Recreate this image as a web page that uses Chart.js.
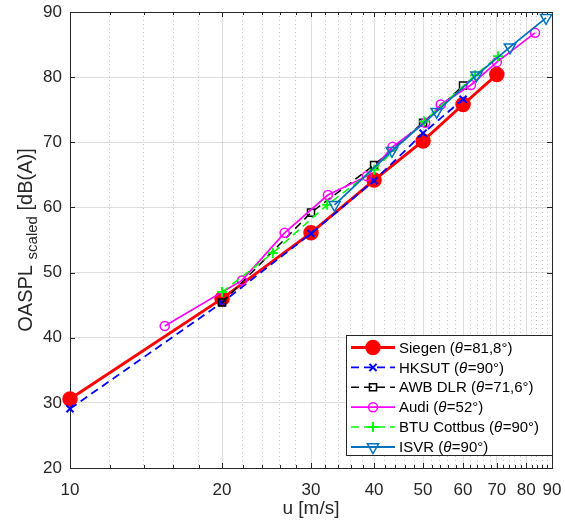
<!DOCTYPE html>
<html>
<head>
<meta charset="utf-8">
<script src="https://cdn.jsdelivr.net/npm/chart.js@4.4.1/dist/chart.umd.min.js"></script>
<style>
  body { margin: 0; background: #fff; }
  canvas { display: block; }
</style>
</head>
<body>
<canvas id="oasplChart" width="565" height="525"></canvas>
<script>
// tick values
const xTicks = [10, 20, 30, 40, 50, 60, 70, 80, 90];
const xMinor = [12, 14, 16, 18, 22, 24, 26, 28, 32, 34, 36, 38, 42, 44, 46, 48,
                52, 54, 56, 58, 62, 64, 66, 68, 72, 74, 76, 78, 82, 84, 86, 88];
const yTicks = [20, 30, 40, 50, 60, 70, 80, 90];

// series names / angles (legend)
const seriesNames = ['Siegen', 'HKSUT', 'AWB DLR', 'Audi', 'BTU Cottbus', 'ISVR'];
const seriesAngles = ['81,8', '90', '71,6', '52', '90', '90'];

// values: u [m/s] and OASPL [dB(A)]
const siegenU = [10, 20, 30, 40, 50, 60, 70];
const siegenL = [30.6, 46.0, 56.1, 64.2, 70.2, 75.8, 80.4];
const hksutU = [10, 20, 30, 40, 50, 60];
const hksutL = [29.1, 45.4, 56.0, 64.1, 71.4, 76.6];
const awbU = [20, 30, 40, 50, 60];
const awbL = [45.4, 59.2, 66.5, 73.0, 78.7];
const audiU = [15.4, 21.9, 26.6, 32.4, 38.7, 43.5, 50.5, 54.2, 62.2, 70.0, 83.3];
const audiL = [41.8, 48.8, 56.1, 61.9, 64.8, 69.3, 73.0, 75.8, 78.8, 82.3, 86.8];
const btuU = [20, 25.2, 32.3, 40, 50.2, 63.4, 70.4];
const btuL = [47.0, 53.0, 60.4, 65.8, 73.2, 80.3, 83.2];
const isvrU = [33.4, 43.4, 53.2, 63.8, 74.3, 87.6];
const isvrL = [60.4, 68.7, 74.7, 80.3, 84.6, 89.1];

const FONT = "'Liberation Sans', Arial, Helvetica, sans-serif";
const TXT = '#262626';

function pts(us, ls) {
  return us.map((u, i) => ({ x: u, y: ls[i] }));
}

function makeSet(i, us, ls, style) {
  return Object.assign({
    label: seriesNames[i] + ' (\u03b8=' + seriesAngles[i] + '\u00b0)',
    data: pts(us, ls),
    fill: false,
    tension: 0,
    clip: false,
    pointBorderWidth: 1.5,
    pointHoverRadius: 0,
    order: seriesNames.length - 1 - i
  }, style);
}

const datasets = [
  makeSet(0, siegenU, siegenL, {
    borderColor: '#ff0000', backgroundColor: '#ff0000', borderWidth: 3,
    pointStyle: 'circle', pointRadius: 7, pointBackgroundColor: '#ff0000', pointBorderColor: '#ff0000'
  }),
  makeSet(1, hksutU, hksutL, {
    borderColor: '#0000ff', borderWidth: 1.8, borderDash: [8, 5],
    pointStyle: 'crossRot', pointRadius: 5, pointBorderColor: '#0000ff', pointBorderWidth: 2
  }),
  makeSet(2, awbU, awbL, {
    borderColor: '#000000', borderWidth: 1.5, borderDash: [8, 5],
    pointStyle: 'rect', pointRadius: 5, pointBorderColor: '#000000', pointBackgroundColor: 'rgba(0,0,0,0)'
  }),
  makeSet(3, audiU, audiL, {
    borderColor: '#ff00ff', borderWidth: 1.7,
    pointStyle: 'circle', pointRadius: 4.5, pointBorderColor: '#ff00ff', pointBackgroundColor: 'rgba(0,0,0,0)'
  }),
  makeSet(4, btuU, btuL, {
    borderColor: '#00ff00', borderWidth: 1.5, borderDash: [8, 5],
    pointStyle: 'cross', pointRadius: 5, pointBorderColor: '#00ff00', pointBorderWidth: 2
  }),
  makeSet(5, isvrU, isvrL, {
    borderColor: '#0072bd', borderWidth: 1.8,
    pointStyle: 'triangle', pointRotation: 180, pointRadius: 6.5, pointBorderColor: '#0072bd',
    pointBackgroundColor: 'rgba(0,0,0,0)'
  })
];

// box round the axes and inward tick marks
const boxPlugin = {
  id: 'axesBox',
  beforeDatasetsDraw(chart) {
    const { ctx, chartArea: a, scales } = chart;
    ctx.save();
    ctx.strokeStyle = TXT;
    ctx.lineWidth = 1;
    ctx.beginPath();
    ctx.moveTo(a.left, a.top + 0.5);
    ctx.lineTo(a.right + 0.5, a.top + 0.5);
    ctx.lineTo(a.right + 0.5, a.bottom);
    xTicks.forEach(v => {
      const px = Math.round(scales.x.getPixelForValue(v)) + 0.5;
      ctx.moveTo(px, a.bottom); ctx.lineTo(px, a.bottom - 5);
      ctx.moveTo(px, a.top); ctx.lineTo(px, a.top + 5);
    });
    xMinor.forEach(v => {
      const px = Math.round(scales.x.getPixelForValue(v)) + 0.5;
      ctx.moveTo(px, a.bottom); ctx.lineTo(px, a.bottom - 3);
      ctx.moveTo(px, a.top); ctx.lineTo(px, a.top + 3);
    });
    yTicks.forEach(v => {
      const py = Math.round(scales.y.getPixelForValue(v)) + 0.5;
      ctx.moveTo(a.left, py); ctx.lineTo(a.left + 5, py);
      ctx.moveTo(a.right, py); ctx.lineTo(a.right - 5, py);
    });
    ctx.stroke();
    ctx.restore();
  }
};

// y label with subscript
const yTitlePlugin = {
  id: 'yTitle',
  afterDraw(chart) {
    const { ctx, chartArea: a } = chart;
    const big = '20px ' + FONT, small = '15px ' + FONT;
    const parts = [['OASPL ', big, 0], ['scaled', small, 5], [' [dB(A)]', big, 0]];
    ctx.save();
    let total = 0;
    parts.forEach(p => { ctx.font = p[1]; total += ctx.measureText(p[0]).width; });
    ctx.translate(32, (a.top + a.bottom) / 2);
    ctx.rotate(-Math.PI / 2);
    ctx.fillStyle = TXT;
    ctx.textBaseline = 'alphabetic';
    let x = -total / 2;
    parts.forEach(p => {
      ctx.font = p[1];
      ctx.fillText(p[0], x, p[2]);
      x += ctx.measureText(p[0]).width;
    });
    ctx.restore();
  }
};

// legend box inside the axes, lower right
const legendPlugin = {
  id: 'boxLegend',
  afterDraw(chart) {
    const { ctx, chartArea: a } = chart;
    const w = 206, h = 120;
    const x0 = a.right - w, y0 = a.bottom - 13 - h;
    ctx.save();
    ctx.fillStyle = '#ffffff';
    ctx.fillRect(x0, y0, w, h);
    ctx.strokeStyle = TXT;
    ctx.lineWidth = 1;
    ctx.strokeRect(x0 + 0.5, y0 + 0.5, w, h);

    chart.data.datasets.forEach((ds, i) => {
      const cy = y0 + 12.5 + i * 19.9;
      const lx1 = x0 + 5, lx2 = x0 + 49, mx = x0 + 27;
      ctx.save();
      ctx.strokeStyle = ds.borderColor;
      ctx.lineWidth = ds.borderWidth;
      ctx.setLineDash(ds.borderDash || []);
      ctx.beginPath();
      ctx.moveTo(lx1, cy); ctx.lineTo(lx2, cy);
      ctx.stroke();
      ctx.setLineDash([]);
      ctx.strokeStyle = ds.pointBorderColor;
      ctx.fillStyle = ds.pointBackgroundColor || 'rgba(0,0,0,0)';
      ctx.lineWidth = ds.pointBorderWidth;
      Chart.helpers.drawPoint(ctx, {
        pointStyle: ds.pointStyle,
        rotation: ds.pointRotation || 0,
        radius: ds.pointRadius,
        borderWidth: ds.pointBorderWidth
      }, mx, cy);
      ctx.restore();

      // label text with italic theta
      const idx = ds.label.indexOf('\u03b8');
      const pre = ds.label.slice(0, idx), post = ds.label.slice(idx + 1);
      let tx = x0 + 53;
      ctx.fillStyle = '#000000';
      ctx.textBaseline = 'middle';
      ctx.font = '15px ' + FONT;
      ctx.fillText(pre, tx, cy + 1);
      tx += ctx.measureText(pre).width;
      ctx.font = 'italic 15px ' + FONT;
      ctx.fillText('\u03b8', tx, cy + 1);
      tx += ctx.measureText('\u03b8').width + 0.5;
      ctx.font = '15px ' + FONT;
      ctx.fillText(post, tx, cy + 1);
    });
    ctx.restore();
  }
};

const ctx = document.getElementById('oasplChart').getContext('2d');
const oasplChart = new Chart(ctx, {
  type: 'line',
  data: { datasets: datasets },
  plugins: [boxPlugin, yTitlePlugin, legendPlugin],
  options: {
    responsive: false,
    animation: false,
    devicePixelRatio: 1,
    layout: { padding: { top: 12, right: 13, left: 0, bottom: 0 } },
    plugins: {
      legend: { display: false },
      tooltip: { enabled: false }
    },
    scales: {
      x: {
        type: 'logarithmic',
        position: 'bottom',
        min: 10,
        max: 90,
        afterBuildTicks: (s) => { s.ticks = xTicks.map(v => ({ value: v })); },
        afterFit: (s) => { s.height = 57; s.paddingLeft = 0; s.paddingRight = 0; },
        ticks: {
          autoSkip: false,
          maxRotation: 0,
          padding: 12,
          color: TXT,
          font: { family: FONT, size: 17 },
          callback: (v) => String(v)
        },
        grid: { color: 'rgba(0,0,0,0.13)', lineWidth: 1, drawTicks: false },
        border: { display: true, color: TXT, width: 1 },
        title: {
          display: true,
          text: 'u [m/s]',
          color: TXT,
          font: { family: FONT, size: 19 },
          padding: { top: 0, bottom: 5 }
        }
      },
      xMinor: {
        type: 'logarithmic',
        position: 'bottom',
        min: 10,
        max: 90,
        afterBuildTicks: (s) => { s.ticks = xMinor.map(v => ({ value: v })); },
        afterFit: (s) => { s.height = 0; s.paddingLeft = 0; s.paddingRight = 0; },
        ticks: { display: false },
        grid: { color: 'rgba(0,0,0,0.22)', lineWidth: 1, drawTicks: false },
        border: { display: false, dash: [1, 3] }
      },
      y: {
        type: 'linear',
        min: 20,
        max: 90,
        afterBuildTicks: (s) => { s.ticks = yTicks.map(v => ({ value: v })); },
        afterFit: (s) => { s.width = 70; s.paddingTop = 0; s.paddingBottom = 0; },
        ticks: {
          padding: 8,
          color: TXT,
          font: { family: FONT, size: 17 }
        },
        grid: { color: 'rgba(0,0,0,0.13)', lineWidth: 1, drawTicks: false },
        border: { display: true, color: TXT, width: 1 }
      }
    }
  }
});
</script>
</body>
</html>
